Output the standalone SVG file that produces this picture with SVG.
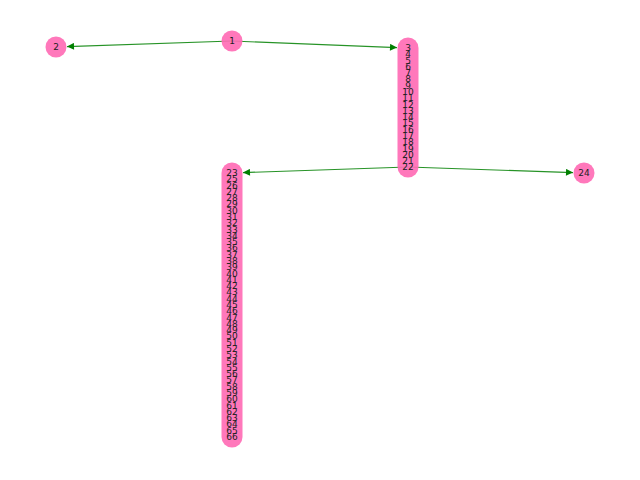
<svg xmlns="http://www.w3.org/2000/svg" width="640" height="480" viewBox="0 0 640 480">
<style>
.n{fill:#ff69b4;fill-opacity:0.9}
.t{font-family:"DejaVu Sans",sans-serif;font-size:9px;fill:#222;text-anchor:middle;dominant-baseline:central}
.e{stroke:#008000;stroke-opacity:0.85;stroke-width:1.1;fill:none;marker-end:url(#a)}
</style>
<defs>
<marker id="a" viewBox="0 0 10 10" refX="10" refY="5" markerWidth="9" markerHeight="7" markerUnits="userSpaceOnUse" orient="auto">
<path d="M0,0L10,5L0,10z" fill="#008000"/>
</marker>
</defs>
<rect width="640" height="480" fill="#fff"/>
<g id="edges">
<line class="e" x1="232" y1="41" x2="67" y2="46.6"/>
<line class="e" x1="232" y1="41" x2="397" y2="47.6"/>
<line class="e" x1="408" y1="167" x2="243" y2="172.6"/>
<line class="e" x1="408" y1="167" x2="573" y2="172.6"/>
</g>
<g id="node1"><circle class="n" cx="232" cy="41" r="10.5"/><text class="t" x="232" y="41">1</text></g>
<g id="node2"><circle class="n" cx="56" cy="47" r="10.5"/><text class="t" x="56" y="47">2</text></g>
<g id="node24"><circle class="n" cx="584" cy="173" r="10.5"/><text class="t" x="584" y="173">24</text></g>
<g id="stack3-22">
<rect class="n" x="397.5" y="37.5" width="21" height="140" rx="10.5"/>
<text class="t" x="408" y="48">3</text><text class="t" x="408" y="54.3">4</text><text class="t" x="408" y="60.6">5</text><text class="t" x="408" y="66.8">6</text><text class="t" x="408" y="73.1">7</text><text class="t" x="408" y="79.4">8</text><text class="t" x="408" y="85.7">9</text><text class="t" x="408" y="92">10</text><text class="t" x="408" y="98.2">11</text><text class="t" x="408" y="104.5">12</text><text class="t" x="408" y="110.8">13</text><text class="t" x="408" y="117.1">14</text><text class="t" x="408" y="123.4">15</text><text class="t" x="408" y="129.6">16</text><text class="t" x="408" y="135.9">17</text><text class="t" x="408" y="142.2">18</text><text class="t" x="408" y="148.5">19</text><text class="t" x="408" y="154.8">20</text><text class="t" x="408" y="161">21</text><text class="t" x="408" y="167.3">22</text>
</g>
<g id="stack23-66">
<rect class="n" x="221.5" y="162.5" width="21" height="285" rx="10.5"/>
<text class="t" x="232" y="173">23</text><text class="t" x="232" y="179.3">25</text><text class="t" x="232" y="185.6">26</text><text class="t" x="232" y="191.9">27</text><text class="t" x="232" y="198.1">28</text><text class="t" x="232" y="204.4">29</text><text class="t" x="232" y="210.7">30</text><text class="t" x="232" y="217">31</text><text class="t" x="232" y="223.3">32</text><text class="t" x="232" y="229.6">33</text><text class="t" x="232" y="235.9">34</text><text class="t" x="232" y="242.1">35</text><text class="t" x="232" y="248.4">36</text><text class="t" x="232" y="254.7">37</text><text class="t" x="232" y="261">38</text><text class="t" x="232" y="267.3">39</text><text class="t" x="232" y="273.6">40</text><text class="t" x="232" y="279.9">41</text><text class="t" x="232" y="286.1">42</text><text class="t" x="232" y="292.4">43</text><text class="t" x="232" y="298.7">44</text><text class="t" x="232" y="305">45</text><text class="t" x="232" y="311.3">46</text><text class="t" x="232" y="317.6">47</text><text class="t" x="232" y="323.9">48</text><text class="t" x="232" y="330.1">49</text><text class="t" x="232" y="336.4">50</text><text class="t" x="232" y="342.7">51</text><text class="t" x="232" y="349">52</text><text class="t" x="232" y="355.3">53</text><text class="t" x="232" y="361.6">54</text><text class="t" x="232" y="367.9">55</text><text class="t" x="232" y="374.1">56</text><text class="t" x="232" y="380.4">57</text><text class="t" x="232" y="386.7">58</text><text class="t" x="232" y="393">59</text><text class="t" x="232" y="399.3">60</text><text class="t" x="232" y="405.6">61</text><text class="t" x="232" y="411.9">62</text><text class="t" x="232" y="418.1">63</text><text class="t" x="232" y="424.4">64</text><text class="t" x="232" y="430.7">65</text><text class="t" x="232" y="437">66</text>
</g>
</svg>
